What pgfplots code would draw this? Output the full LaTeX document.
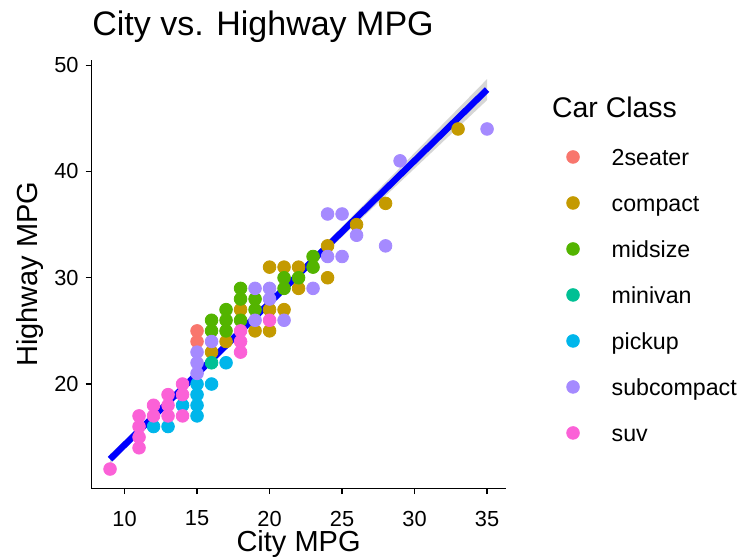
\documentclass[border=0pt]{standalone}
\usepackage{fontspec}
\setmainfont{Liberation Sans}
\usepackage{pgfplots}
\pgfplotsset{compat=1.18}
\usepgfplotslibrary{fillbetween}
\definecolor{c2seater}{HTML}{F8766D}
\definecolor{ccompact}{HTML}{C49A00}
\definecolor{cmidsize}{HTML}{53B400}
\definecolor{cminivan}{HTML}{00C094}
\definecolor{cpickup}{HTML}{00B6EB}
\definecolor{csubcompact}{HTML}{A58AFF}
\definecolor{csuv}{HTML}{FB61D7}
\definecolor{ribgray}{RGB}{153,153,153}
\definecolor{fitblue}{RGB}{0,0,255}
\begin{document}
\begin{tikzpicture}
\begin{axis}[
  name=main,
  width=207.4pt, height=214.5pt, scale only axis,
  xmin=7.7, xmax=36.3, ymin=10.165, ymax=50.53,
  axis lines*=left,
  axis line style={line width=0.65pt, black},
  xtick={10,15,20,25,30,35}, ytick={20,30,40,50},
  tick align=outside, major tick length=2.75pt,
  tick style={line width=0.65pt, black},
  minor tick num=0,
  ticklabel style={font=\fontsize{10.9}{13}\selectfont, text=black},
  xticklabel style={anchor=north, inner sep=0pt, yshift=-8.25pt},
  /pgf/number format/assume math mode=true,
  legend cell align=left,
  legend image code/.code={\path[draw=none, fill=none] (-3.2pt,-1.7pt) rectangle (19.35pt,4.7pt); \draw[#1] plot coordinates {(0pt,1.5pt)};},
  legend style={draw=none, fill=none, inner sep=0pt, outer sep=0pt,
    at={(1,1)}, anchor=north west, xshift=30.35pt, yshift=-44.7pt,
    font=\fontsize{11.6}{13}\selectfont, row sep=12pt,
    nodes={inner sep=0pt, text height=8.5pt, text depth=2.5pt}},
  every axis plot/.append style={only marks, mark=*, mark size=3.17pt},
]
\addplot[color=c2seater, mark options={draw=none, fill=c2seater}] coordinates {
(15,24) (15,25)
};
\addlegendentry{2seater}
\addplot[color=ccompact, mark options={draw=none, fill=ccompact}] coordinates {
(16,23) (17,24) (18,27) (19,25) (20,25) (20,27) (21,27) (20,31) (21,31) (22,31)
(22,29) (24,30) (24,33) (26,35) (28,37) (33,44)
};
\addlegendentry{compact}
\addplot[color=cmidsize, mark options={draw=none, fill=cmidsize}] coordinates {
(16,25) (16,26) (17,25) (17,26) (17,27) (18,26) (18,28) (18,29) (19,27) (19,28)
(21,29) (21,30) (22,30) (23,31) (23,32)
};
\addlegendentry{midsize}
\addplot[color=cminivan, mark options={draw=none, fill=cminivan}] coordinates {
(16,22)
};
\addlegendentry{minivan}
\addplot[color=cpickup, mark options={draw=none, fill=cpickup}] coordinates {
(12,16) (13,16) (14,18) (15,17) (15,18) (15,19) (15,20) (16,20) (17,22)
};
\addlegendentry{pickup}
\addplot[color=csubcompact, mark options={draw=none, fill=csubcompact}] coordinates {
(15,21) (15,22) (15,23) (16,24) (19,26) (19,29) (20,28) (20,29) (21,26) (23,29)
(24,32) (25,32) (24,36) (25,36) (26,34) (28,33) (29,41) (35,44)
};
\addlegendentry{subcompact}
\addplot[color=csuv, mark options={draw=none, fill=csuv}] coordinates {
(9,12) (11,14) (11,15) (11,16) (11,17) (12,17) (12,18) (13,17) (13,18) (13,19)
(14,17) (14,19) (14,20) (18,23) (18,24) (18,25) (20,26)
};
\addlegendentry{suv}
% confidence band of the linear fit
\addplot[name path=up, draw=none, no marks, forget plot, sharp plot] coordinates {
(9,13.404) (12,17.285) (15,21.201) (17,23.856) (20,27.923) (23,32.052)
(26,36.202) (29,40.363) (32,44.527) (35,48.695)
};
\addplot[name path=lo, draw=none, no marks, forget plot, sharp plot] coordinates {
(9,12.454) (12,16.599) (15,20.709) (17,23.404) (20,27.361) (23,31.258)
(26,35.132) (29,38.997) (32,42.857) (35,46.715)
};
\addplot[fill=ribgray, fill opacity=0.4, draw=none, forget plot] fill between[of=up and lo];
\addplot[fitblue, line width=3.2pt, no marks, sharp plot, forget plot] coordinates {
(9,12.929) (35,47.705)
};
\end{axis}
\node[anchor=base west, inner sep=0pt, font=\fontsize{17}{20}\selectfont] at ([shift={(0.4pt,11.8pt)}]main.north west) {City vs. Highway MPG};
\node[anchor=base, inner sep=0pt, font=\fontsize{14.5}{17}\selectfont] at ([yshift=-31.6pt]main.south) {City MPG};
\node[anchor=base, rotate=90, inner sep=0pt, font=\fontsize{14.5}{17}\selectfont] at ([xshift=-27pt]main.west) {Highway MPG};
\node[anchor=base west, inner sep=0pt, font=\fontsize{14.2}{17}\selectfont] at ([shift={(22.9pt,-28.85pt)}]main.north east) {Car Class};
\pgfresetboundingbox
\path[use as bounding box] ([shift={(-45.6pt,-33.75pt)}]main.south west) rectangle ([shift={(118.05pt,29.8pt)}]main.north east);
\end{tikzpicture}
\end{document}
